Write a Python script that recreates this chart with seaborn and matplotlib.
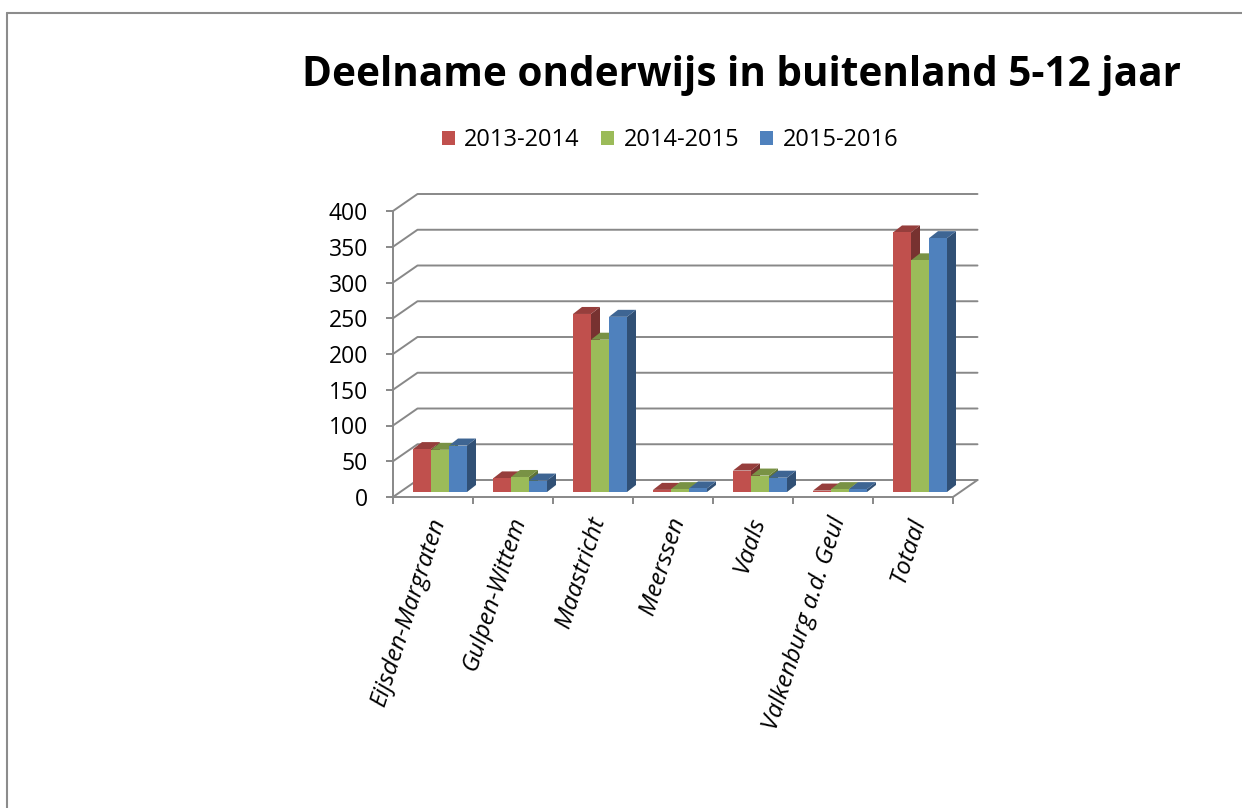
import numpy as np
import pandas as pd
import matplotlib
matplotlib.use('Agg')
import matplotlib.pyplot as plt
import matplotlib.transforms as mtransforms
from matplotlib.patches import Polygon, Patch
from matplotlib.lines import Line2D
from matplotlib.colors import to_rgb
import seaborn as sns

# Data
categories = ['Eijsden-Margraten', 'Gulpen-Wittem', 'Maastricht', 'Meerssen',
              'Vaals', 'Valkenburg a.d. Geul', 'Totaal']
years = ['2013-2014', '2014-2015', '2015-2016']
v_2013 = [60, 19, 249, 3, 30, 2, 363]
v_2014 = [59, 21, 213, 4, 23, 4, 324]
v_2015 = [65, 16, 245, 5, 20, 4, 355]
yticks = [0, 50, 100, 150, 200, 250, 300, 350, 400]
title = 'Deelname onderwijs in buitenland 5-12 jaar'

colors = ['#C0504D', '#9BBB59', '#4F81BD']
grid_col = '#888888'

df = pd.DataFrame({
    'gemeente': categories * 3,
    'jaar': np.repeat(years, len(categories)),
    'aantal': v_2013 + v_2014 + v_2015,
})

sns.set_style('white')
plt.rcParams['font.family'] = ['Open Sans', 'DejaVu Sans']
plt.rcParams['text.color'] = 'black'
plt.rcParams['xtick.labelcolor'] = 'black'
plt.rcParams['ytick.labelcolor'] = 'black'

W, H = 1242, 808
fig = plt.figure(figsize=(W / 100, H / 100), dpi=100)

# pixel geometry of the pseudo-3D plot
px_x = 80.0          # px per category
px_y = 0.715         # px per unit
wall_dx = 24.5 / px_x
wall_dy = 17 / px_y
bar_dx = 9 / px_x
bar_dy = 7 / px_y
shift_x = 7 / px_x
shift_y = 5 / px_y

ax = fig.add_axes([393 / W, (H - 497) / H, (7 * px_x + 24.5) / W, 307 / H])

sns.barplot(data=df, x='gemeente', y='aantal', hue='jaar', palette=colors,
            width=0.675, saturation=1, legend=False, linewidth=0, ax=ax)

# back wall gridlines + side wall diagonals
for v in yticks:
    ax.plot([-0.5, -0.5 + wall_dx, 6.5 + wall_dx], [v, v + wall_dy, v + wall_dy],
            color=grid_col, lw=1.4, zorder=1, clip_on=False)
ax.plot([6.5, 6.5 + wall_dx], [0, wall_dy], color=grid_col, lw=1.4, zorder=1, clip_on=False)

# give the bars depth
bars = sorted(ax.patches, key=lambda p: p.get_x())
for i, p in enumerate(bars):
    x0 = p.get_x() + shift_x
    w = p.get_width()
    h = p.get_height()
    y0 = shift_y
    p.set_x(x0)
    p.set_y(y0)
    c = np.array(to_rgb(p.get_facecolor()))
    base = 3 + 3 * i
    side = Polygon([(x0 + w, y0), (x0 + w + bar_dx, y0 + bar_dy),
                    (x0 + w + bar_dx, y0 + h + bar_dy), (x0 + w, y0 + h)],
                   facecolor=c * 0.62, edgecolor='none', zorder=base, clip_on=False)
    top = Polygon([(x0, y0 + h), (x0 + w, y0 + h),
                   (x0 + w + bar_dx, y0 + h + bar_dy), (x0 + bar_dx, y0 + h + bar_dy)],
                  facecolor=c * 0.78, edgecolor='none', zorder=base, clip_on=False)
    ax.add_patch(side)
    ax.add_patch(top)
    p.set_zorder(base + 1)
    p.set_clip_on(False)

ax.set_xlim(-0.5, 6.5 + wall_dx)
ax.set_ylim(0, 307 / px_y)
ax.grid(False)
ax.set_xlabel('')
ax.set_ylabel('')

ax.set_yticks(yticks)
ax.set_xticks(range(len(categories)))
ax.set_xticklabels(categories, rotation=72, ha='right', va='center',
                   rotation_mode='anchor', fontstyle='italic', fontsize=17.5)
ax.set_xticks(np.arange(-0.5, len(categories), 1), minor=True)
ax.tick_params(axis='x', which='major', bottom=False, length=0, pad=15)
ax.tick_params(axis='x', which='minor', bottom=True, length=5, width=1.4,
               color=grid_col, direction='out')
ax.tick_params(axis='y', left=True, length=5, width=1.4, color=grid_col,
               direction='out', pad=13, labelsize=16.5)

offset = mtransforms.ScaledTranslation(6 / 100, 0, fig.dpi_scale_trans)
for lab in ax.get_xticklabels():
    lab.set_transform(lab.get_transform() + offset)

for s in ['top', 'right']:
    ax.spines[s].set_visible(False)
ax.spines['left'].set_color(grid_col)
ax.spines['left'].set_linewidth(1.4)
ax.spines['left'].set_bounds(0, 400)
ax.spines['bottom'].set_color(grid_col)
ax.spines['bottom'].set_linewidth(1.4)
ax.spines['bottom'].set_bounds(-0.5, 6.5)

# legend
handles = [Patch(facecolor=c, edgecolor='none') for c in colors]
fig.legend(handles, years, loc='center', bbox_to_anchor=(670 / W, 1 - 140 / H),
           ncol=3, frameon=False, fontsize=17, handlelength=0.55, handleheight=0.55,
           handletextpad=0.4, columnspacing=0.9)

# title
fig.text(741 / W, 1 - 75 / H, title, ha='center', va='center',
         fontsize=29.2, fontweight='bold')

# chart border (left and top visible)
fig.add_artist(Line2D([7 / W, 7 / W], [0, 1 - 13 / H], transform=fig.transFigure,
                      color='#8c8c8c', lw=1.5))
fig.add_artist(Line2D([7 / W, 1], [1 - 13 / H, 1 - 13 / H], transform=fig.transFigure,
                      color='#8c8c8c', lw=1.5))

fig.savefig('out.png', dpi=100)
